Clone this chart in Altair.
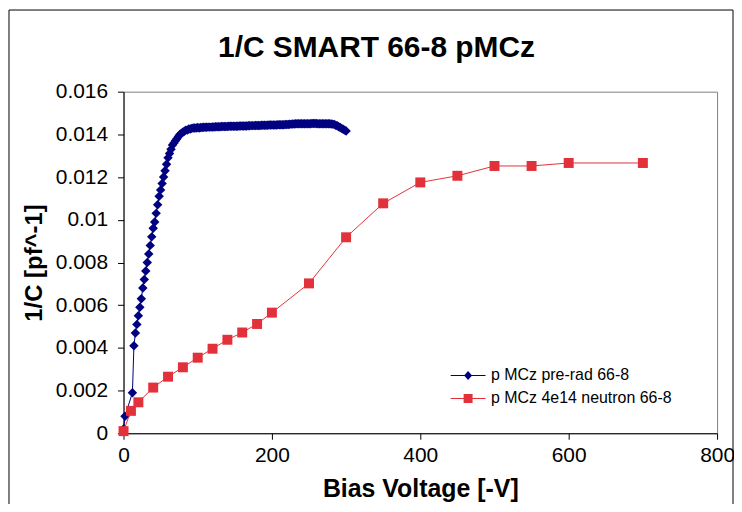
import altair as alt
import pandas as pd

# ---- data ----
chart_title = "1/C SMART 66-8 pMCz"
series_names = ["p MCz pre-rad 66-8", "p MCz 4e14 neutron 66-8"]
series_colors = ["#000080", "#E2313A"]

blue_v = [0, 2] + list(range(12, 301, 2))
blue_y = [
    0.0002, 0.0008,
    0.0019, 0.0041, 0.0047, 0.0051, 0.0055, 0.0059, 0.0063, 0.0068, 0.0072, 0.0076,
    0.0080, 0.0084, 0.0088, 0.0092, 0.0096, 0.0099, 0.0103, 0.0107, 0.0111, 0.0114,
    0.0117, 0.0120, 0.0123, 0.0126, 0.0129, 0.0131, 0.0133, 0.0135, 0.0136, 0.0137,
    0.0138, 0.0139, 0.0140, 0.01405, 0.0141, 0.01415, 0.0142, 0.0142, 0.01425, 0.01425,
    # 92..120
    0.01428, 0.0143, 0.0143, 0.0143, 0.01432, 0.0143, 0.01432, 0.01432, 0.01433, 0.01433,
    0.01433, 0.01434, 0.01434, 0.01434, 0.01435,
    # 122..170
    0.01435, 0.01436, 0.01436, 0.01436, 0.01436, 0.01437, 0.01437, 0.01437, 0.01437, 0.01437,
    0.01438, 0.01438, 0.01438, 0.01438, 0.01438, 0.01438, 0.01438, 0.01439, 0.01439, 0.01439,
    0.01439, 0.01439, 0.01439, 0.01440, 0.01440,
    # 172..226
    0.01441, 0.01441, 0.01441, 0.01442, 0.01442, 0.01442, 0.01442, 0.01443, 0.01443, 0.01443,
    0.01443, 0.01443, 0.01444, 0.01444, 0.01444, 0.01444, 0.01444, 0.01444, 0.01445, 0.01445,
    0.01445, 0.01445, 0.01445, 0.01446, 0.01446, 0.01446, 0.01447, 0.01448,
    # 228..280
    0.01449, 0.01449, 0.0145, 0.0145, 0.0145, 0.0145, 0.0145, 0.0145, 0.0145, 0.0145,
    0.0145, 0.0145, 0.0145, 0.01451, 0.01451, 0.01451, 0.01451, 0.0145, 0.0145, 0.0145,
    0.0145, 0.0145, 0.0145, 0.0145, 0.0145, 0.0145, 0.01449,
    # 282..300
    0.01448, 0.01446, 0.01443, 0.0144, 0.01436, 0.01432, 0.01428, 0.01424, 0.0142, 0.01416,
]

red_v = [0, 10, 20, 40, 60, 80, 100, 120, 140, 160, 180, 200, 250, 300, 350, 400, 450,
         500, 550, 600, 700]
red_y = [0.0001, 0.00105, 0.00145, 0.00214, 0.00265, 0.00309, 0.00354, 0.00396, 0.00438,
         0.00472, 0.00512, 0.00565, 0.00702, 0.00918, 0.01077, 0.01175, 0.01206, 0.01252,
         0.01252, 0.01266, 0.01266]

x_ticks = [0, 200, 400, 600, 800]
y_ticks = [0, 0.002, 0.004, 0.006, 0.008, 0.01, 0.012, 0.014, 0.016]

FONT = "Liberation Sans"

df = pd.concat([
    pd.DataFrame({"series": series_names[0], "V": blue_v, "invC": blue_y}),
    pd.DataFrame({"series": series_names[1], "V": red_v, "invC": red_y}),
], ignore_index=True)

color_scale = alt.Scale(domain=series_names, range=series_colors)

axis_common = dict(grid=False, domainColor="black", domainWidth=1, tickColor="black",
                   tickSize=6, labelFont=FONT, labelFontSize=21, labelColor="black",
                   labelFlush=False, labelOverlap=False,
                   titleFont=FONT, titleFontWeight="bold", titleColor="black")

x_enc = alt.X("V:Q", scale=alt.Scale(domain=[0, 800], nice=False),
              axis=alt.Axis(values=x_ticks, format="d", title="Bias Voltage [-V]",
                            labelPadding=5, titlePadding=11, titleFontSize=25, **axis_common))
y_enc = alt.Y("invC:Q", scale=alt.Scale(domain=[0, 0.016], nice=False),
              axis=alt.Axis(values=y_ticks, format="~g", title="1/C [pf^-1]",
                            labelPadding=10, titlePadding=9, titleFontSize=24, **axis_common))

base = alt.Chart(df).encode(x=x_enc, y=y_enc)

def one(name):
    return base.transform_filter(alt.datum.series == name)

blue_line = one(series_names[0]).mark_line(strokeWidth=1, color=series_colors[0])
blue_pts = one(series_names[0]).mark_point(shape="diamond", filled=True, size=90, opacity=1,
                                           color=series_colors[0])
red_line = one(series_names[1]).mark_line(strokeWidth=1, color=series_colors[1])
red_pts = one(series_names[1]).mark_point(shape="square", filled=True, size=100, opacity=1,
                                          color=series_colors[1])

# legend symbols: a short line with the marker on it
legend_paths = [
    "M-1.75,-0.05H1.75V0.05H-1.75Z M0,-0.45L0.4,0L0,0.45L-0.4,0Z",
    "M-1.75,-0.05H1.75V0.05H-1.75Z M-0.45,-0.45H0.45V0.45H-0.45Z",
]
legend_def = alt.Legend(
    title=None, orient="none", legendX=336, legendY=275,
    symbolSize=400, symbolStrokeWidth=0, symbolOpacity=1,
    labelFont=FONT, labelFontSize=16, labelColor="black", labelLimit=400,
    labelOffset=13, rowPadding=5, padding=0,
)
# legend-only layer: no rows survive the filter, scales have explicit domains
legend_layer = base.transform_filter("datum.V < -1").mark_point(
    filled=True, size=400, opacity=1
).encode(
    color=alt.Color("series:N", scale=color_scale, legend=legend_def),
    shape=alt.Shape("series:N", scale=alt.Scale(domain=series_names, range=legend_paths),
                    legend=legend_def),
)

frame = alt.Chart(pd.DataFrame({"a": [0]})).mark_rect(
    fill=None, stroke="black", strokeWidth=1
).encode(x=alt.value(-115), x2=alt.value(612), y=alt.value(-82), y2=alt.value(430))

title_txt = alt.Chart(pd.DataFrame({"t": [chart_title]})).mark_text(
    font=FONT, fontSize=30, fontWeight="bold", color="black",
    align="center", baseline="alphabetic"
).encode(x=alt.value(254), y=alt.value(-35), text="t:N")

chart = alt.layer(frame, title_txt, blue_line, blue_pts, red_line, red_pts, legend_layer).properties(
    width=596, height=343,
    autosize=alt.AutoSizeParams(type="none"),
    padding={"left": 116, "top": 83, "right": 17, "bottom": 70},
    background="white",
).configure_view(
    stroke="#808080", strokeWidth=1
)

chart.save("out.html", embed_options={"renderer": "svg", "actions": False})
